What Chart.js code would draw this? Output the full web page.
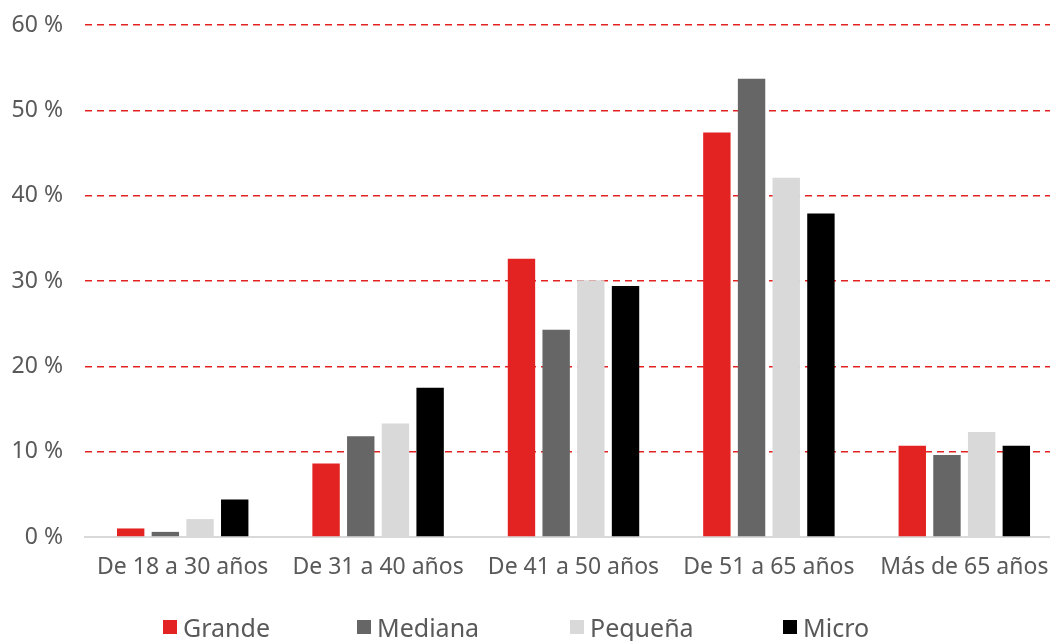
<!DOCTYPE html>
<html>
<head>
<meta charset="utf-8">
<script src="https://cdn.jsdelivr.net/npm/chart.js@4/dist/chart.umd.min.js"></script>
<style>
  html, body { margin: 0; padding: 0; background: #fff; overflow: hidden; }
  #wrap { width: 1064px; height: 641px; position: relative; }
  #legend {
    position: absolute; left: 163px; top: 612px;
    display: flex; align-items: center;
    font-family: 'Noto Sans', sans-serif; font-size: 25px; color: #595959;
    line-height: 30px;
  }
  #legend .item { display: flex; align-items: center; }
  #legend .item:nth-child(1) { width: 194px; }
  #legend .item:nth-child(2), #legend .item:nth-child(3) { width: 213px; }
  #legend .box { width: 14px; height: 14px; margin-right: 6px; }
</style>
</head>
<body>
<div id="wrap"><canvas id="chart"></canvas><div id="legend"></div></div>
<script>
// datos (porcentaje)
var CATEGORIES = ['De 18 a 30 años', 'De 31 a 40 años', 'De 41 a 50 años', 'De 51 a 65 años', 'Más de 65 años'];
var SERIES_NAMES = ['Grande', 'Mediana', 'Pequeña', 'Micro'];
var GRANDE  = [1.0, 8.6, 32.6, 47.4, 10.7];
var MEDIANA = [0.6, 11.8, 24.3, 53.7, 9.6];
var PEQUENA = [2.1, 13.3, 30.1, 42.1, 12.3];
var MICRO   = [4.4, 17.5, 29.4, 37.9, 10.7];
var COLORS  = ['#e32322', '#666666', '#d9d9d9', '#000000'];
var Y_TICKS = [0, 10, 20, 30, 40, 50, 60];

var values = [GRANDE, MEDIANA, PEQUENA, MICRO];
var FONT = "'Noto Sans', sans-serif";

new Chart(document.getElementById('chart'), {
  type: 'bar',
  data: {
    labels: CATEGORIES,
    datasets: SERIES_NAMES.map(function(name, i) {
      return {
        label: name,
        data: values[i],
        backgroundColor: COLORS[i],
        borderWidth: 0,
        categoryPercentage: 0.71,
        barPercentage: 0.79
      };
    })
  },
  options: {
    responsive: true,
    maintainAspectRatio: false,
    animation: false,
    layout: { padding: { top: 0, left: 0, right: 2, bottom: 0 } },
    plugins: {
      tooltip: { enabled: false },
      legend: { display: false }
    },
    scales: {
      x: {
        grid: { display: false },
        border: { display: true, color: '#d9d9d9', width: 2 },
        ticks: { color: '#595959', font: { family: FONT, size: 23 }, padding: 9 },
        afterFit: function(scale) { scale.height = 104; }
      },
      y: {
        min: 0,
        max: 60,
        afterBuildTicks: function(scale) {
          scale.ticks = Y_TICKS.map(function(v) { return { value: v }; });
        },
        afterFit: function(scale) {
          scale.width = 85;
          scale.paddingTop = 25;
        },
        grid: {
          color: function(ctx) { return ctx.tick && ctx.tick.value === 0 ? 'rgba(0,0,0,0)' : '#e32322'; },
          lineWidth: 1.6,
          drawTicks: false
        },
        border: { display: false, dash: [7, 5] },
        ticks: {
          color: '#595959',
          font: { family: FONT, size: 23 },
          padding: 22,
          callback: function(v) { return v + ' %'; }
        }
      }
    }
  }
});

// leyenda
document.getElementById('legend').innerHTML = SERIES_NAMES.map(function(name, i) {
  return '<div class="item"><span class="box" style="background:' + COLORS[i] + '"></span>' + name + '</div>';
}).join('');
</script>
</body>
</html>
